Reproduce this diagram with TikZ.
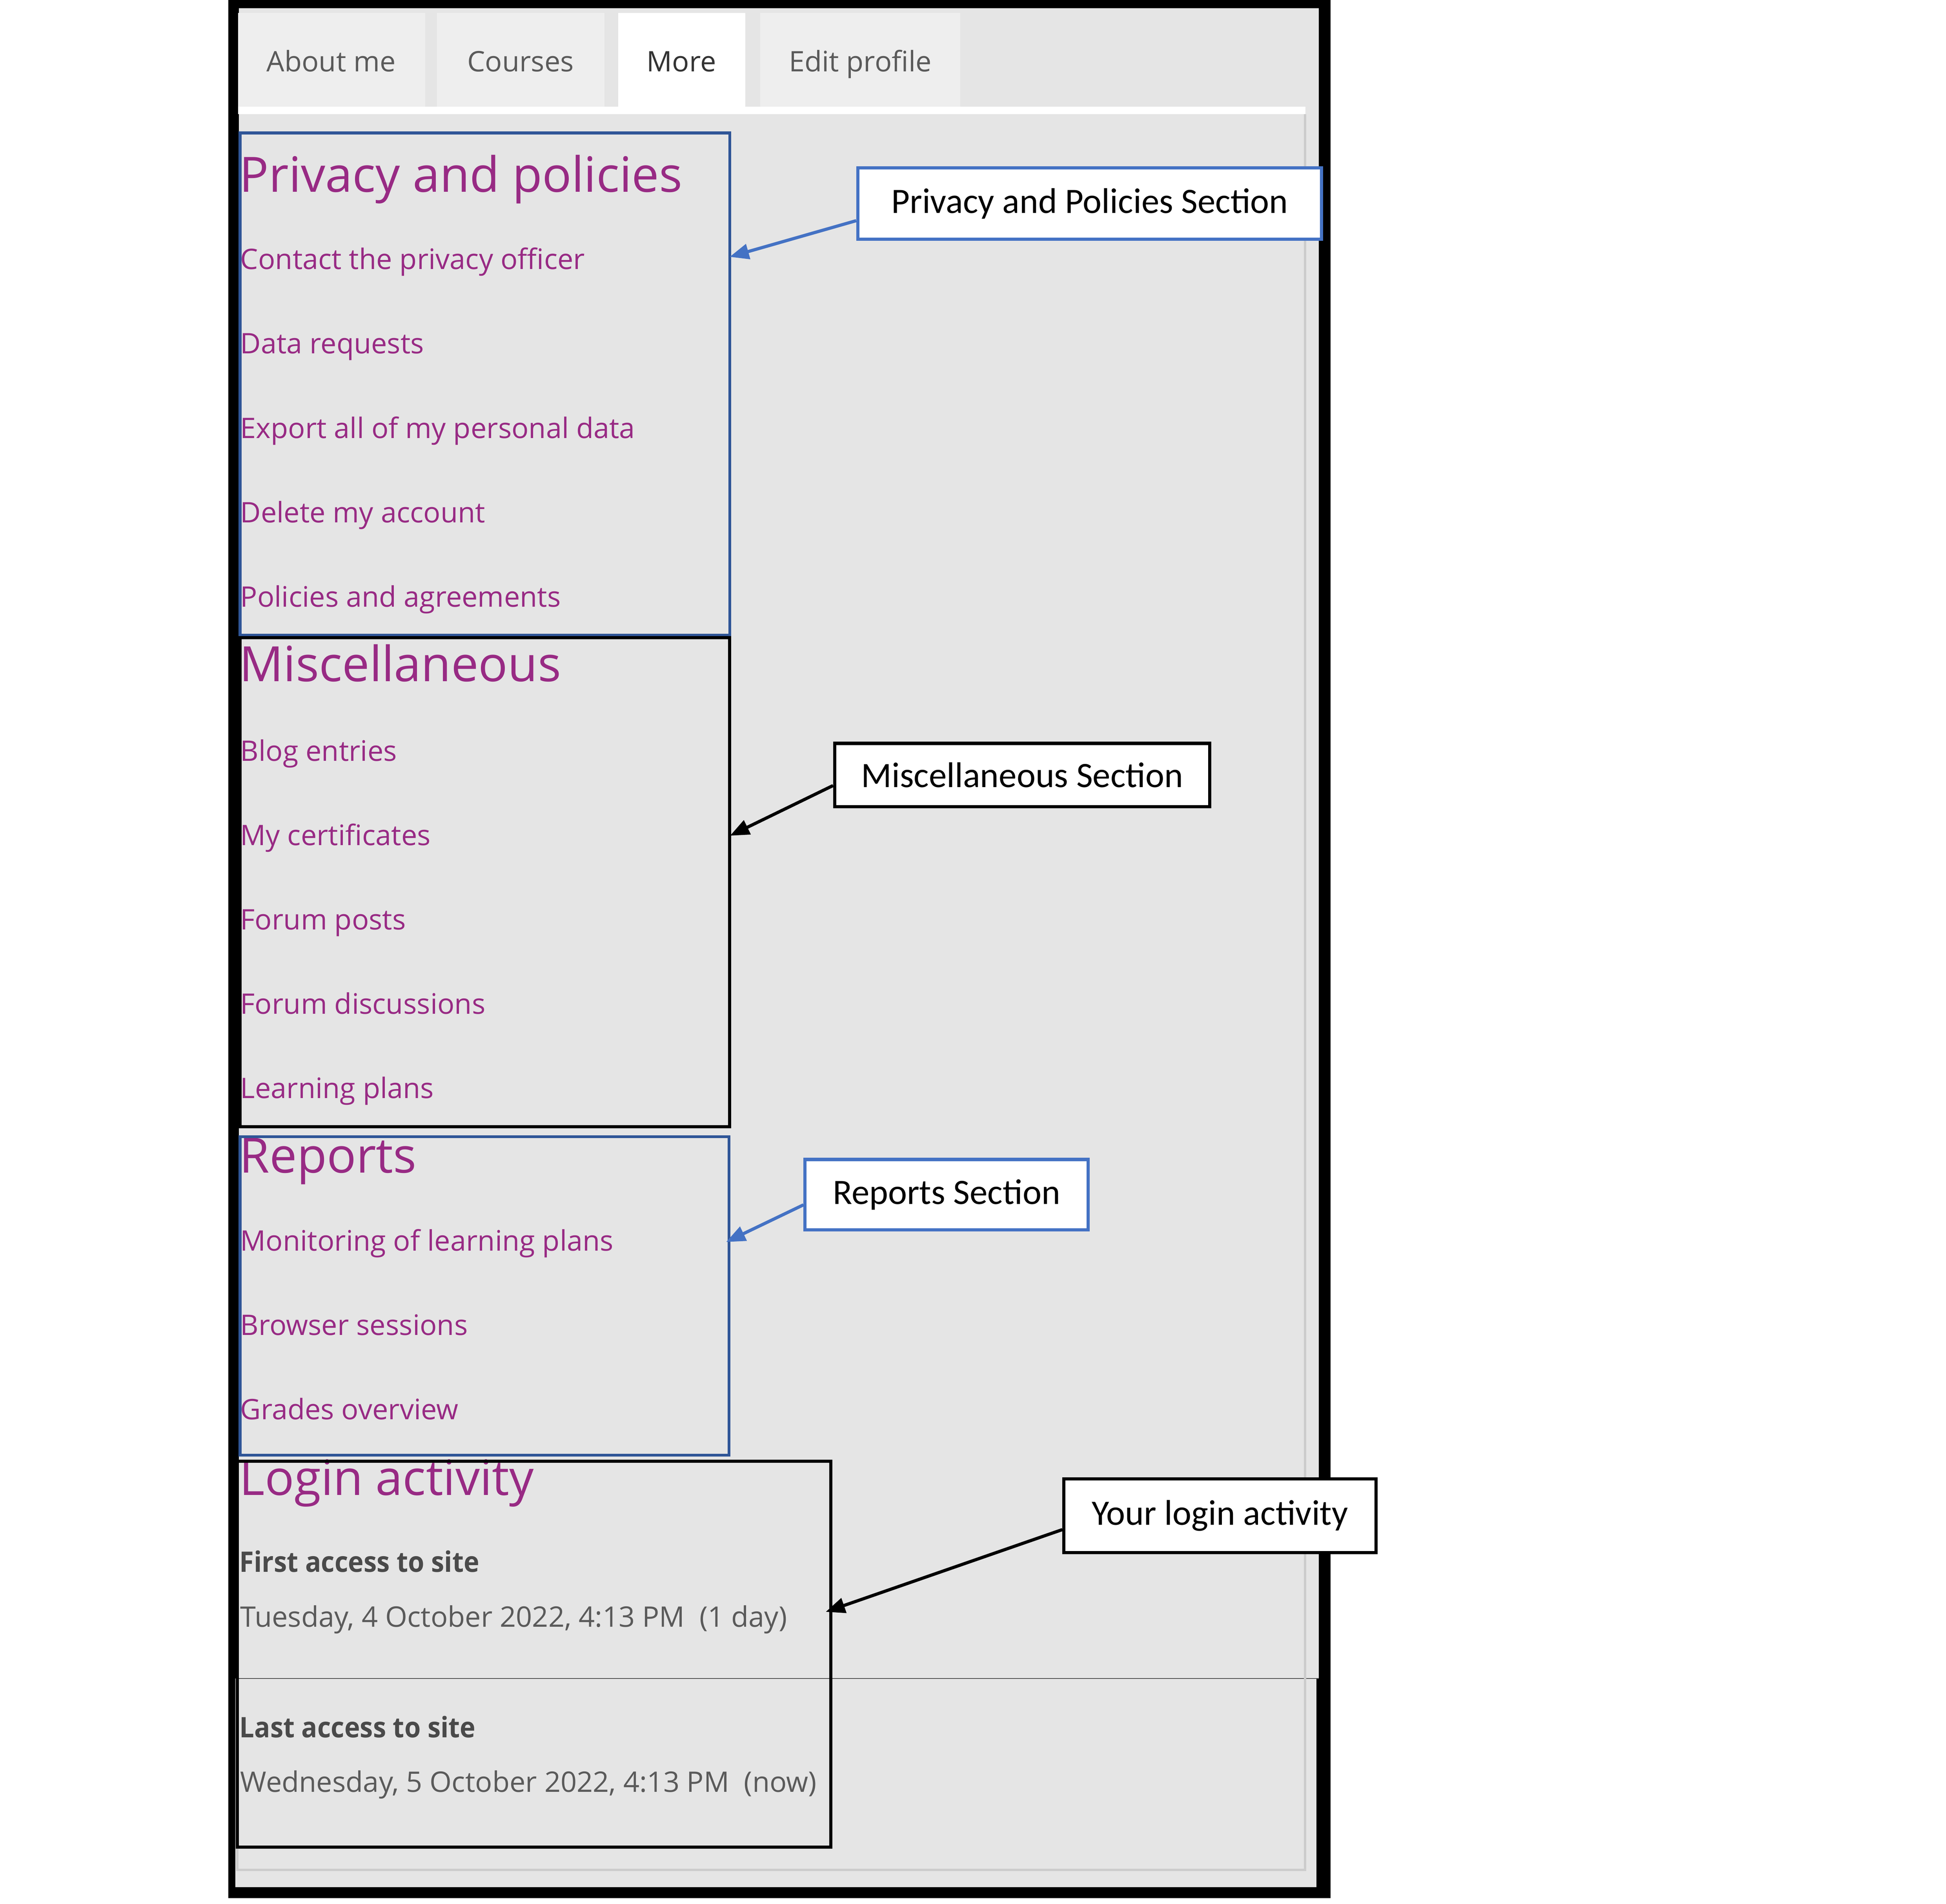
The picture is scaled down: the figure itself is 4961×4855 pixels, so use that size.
\documentclass[tikz,border=0pt]{standalone}
\usepackage{fontspec}
\setmainfont{Open Sans}
\newfontfamily\calfont{Carlito}
\usetikzlibrary{arrows.meta,calc}
\definecolor{bg}{HTML}{E5E5E5}
\definecolor{tabbg}{HTML}{EEEEEE}
\definecolor{link}{HTML}{982A84}
\definecolor{navy}{HTML}{2F5597}
\definecolor{callblue}{HTML}{4472C4}
\definecolor{txtgray}{HTML}{5A5A5A}
\definecolor{boldgray}{HTML}{4A4A4A}
\definecolor{panelline}{HTML}{CCCCCC}
\begin{document}
\begin{tikzpicture}[x=0.01cm,y=-0.01cm,
  item/.style={anchor=base west,inner sep=0,text=link,font=\fontsize{20.5}{24}\selectfont},
  title/.style={anchor=base west,inner sep=0,text=link,font=\fontsize{35.3}{40}\selectfont},
  tabtext/.style={anchor=base,inner sep=0,text=txtgray,font=\fontsize{20.5}{24}\selectfont},
  info/.style={anchor=base west,inner sep=0,text=txtgray,font=\fontsize{20.5}{24}\selectfont},
  infobold/.style={anchor=base west,inner sep=0,text=boldgray,font=\fontsize{20.5}{24}\selectfont\bfseries},
  callbox/.style={draw,line width=2.3pt,fill=white,inner sep=0,font=\calfont\fontsize{25.9}{30}\selectfont},
  arr/.style={line width=2.3pt,-{Triangle[length=14pt,width=11pt]}},
]
\useasboundingbox (0,0) rectangle (4961,4855);
% frame
\fill[black] (582,0) rectangle (3392,4840);
\fill[bg] (609,21) rectangle (3362,4280);
\fill[bg] (600,4280) rectangle (3356,4812);
\draw[black!70,line width=0.8pt] (609,4280) -- (3362,4280);
% tabs
\fill[tabbg] (607,33) rectangle (1084,272);
\fill[tabbg] (1114,33) rectangle (1541,272);
\fill[white] (1576,33) rectangle (1900,272);
\fill[tabbg] (1938,33) rectangle (2448,272);
\node[tabtext] (tab1) at (844,183) {About me};
\node[tabtext] (tab2) at (1327,183) {Courses};
\node[tabtext,text=black!80] (tab3) at (1737,183) {More};
\node[tabtext] (tab4) at (2193,183) {Edit profile};
\fill[white] (607,272) rectangle (3328,291);
\draw[panelline,line width=1.5pt] (3327,291) -- (3327,4768) -- (605,4768) -- (605,4714);
% privacy
\node[title] (pt) at (610,490) {Privacy and policies};
\node[item] (p1) at (612,687) {Contact the privacy officer};
\node[item] (p2) at (612,902) {Data requests};
\node[item] (p3) at (612,1117) {Export all of my personal data};
\node[item] (p4) at (612,1332) {Delete my account};
\node[item] (p5) at (612,1547) {Policies and agreements};
% misc
\node[title] (mt) at (610,1737) {Miscellaneous};
\node[item] (m1) at (612,1940) {Blog entries};
\node[item] (m2) at (612,2155) {My certificates};
\node[item] (m3) at (612,2370) {Forum posts};
\node[item] (m4) at (612,2585) {Forum discussions};
\node[item] (m5) at (612,2800) {Learning plans};
% reports
\node[title] (rt) at (610,2990) {Reports};
\node[item] (r1) at (612,3189) {Monitoring of learning plans};
\node[item] (r2) at (612,3404) {Browser sessions};
\node[item] (r3) at (612,3619) {Grades overview};
% login
\node[title] (lt) at (610,3812) {Login activity};
\node[infobold] (l1) at (610,4008) {\scalebox{0.93}[1]{First access to site}};
\node[info] (l2) at (612,4148) {Tuesday, 4 October 2022, 4:13 PM\ \ (1 day)};
\node[infobold] (l3) at (610,4430) {\scalebox{0.93}[1]{Last access to site}};
\node[info] (l4) at (612,4569) {Wednesday, 5 October 2022, 4:13 PM\ \ (now)};
% section boxes
\draw[navy,line width=2pt] (612,339) rectangle (1860,1620);
\draw[black,line width=2.3pt] (612,1626) rectangle (1860,2873);
\draw[navy,line width=2pt] (612,2898) rectangle (1858,3710);
\draw[black,line width=2.3pt] (605,3726) rectangle (2118,4710);
% callouts
\node[callbox,draw=callblue,minimum width=11.82cm,minimum height=1.82cm] (c1) at (2778,519) {Privacy and Policies Section};
\node[callbox,draw=black,minimum width=9.56cm,minimum height=1.61cm] (c2) at (2606,1976) {Miscellaneous Section};
\node[callbox,draw=callblue,minimum width=7.21cm,minimum height=1.79cm] (c3) at (2413,3046) {Reports Section};
\node[callbox,draw=black,minimum width=7.95cm,minimum height=1.88cm] (c4) at (3110,3865) {Your login activity};
\coordinate (t1) at (1860,655);
\coordinate (t2) at (1861,2131);
\coordinate (t3) at (1851,3167);
\coordinate (t4) at (2105,4110);
\draw[arr,callblue] ($(c1.south west)!0.27!(c1.north west)$) -- (t1);
\draw[arr,black] ($(c2.south west)!0.34!(c2.north west)$) -- (t2);
\draw[arr,callblue] ($(c3.south west)!0.36!(c3.north west)$) -- (t3);
\draw[arr,black] ($(c4.south west)!0.32!(c4.north west)$) -- (t4);
\end{tikzpicture}
\end{document}
